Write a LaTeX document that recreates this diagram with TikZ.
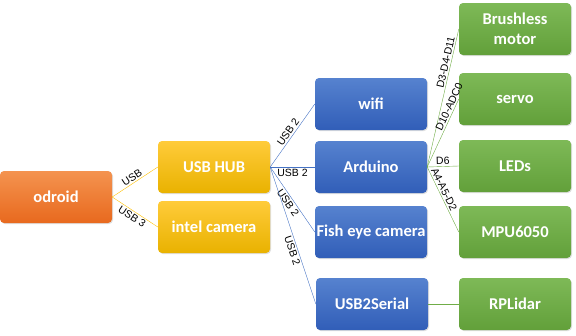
\documentclass[tikz,border=0pt]{standalone}
\usepackage{fontspec}
\setmainfont{Carlito}
\newfontfamily\linkfont{Liberation Sans}
\usetikzlibrary{shadows}
\definecolor{orangeA}{HTML}{F4934F}
\definecolor{orangeB}{HTML}{E8691E}
\definecolor{goldA}{HTML}{FFCB3A}
\definecolor{goldB}{HTML}{E9B200}
\definecolor{blueA}{HTML}{5682CF}
\definecolor{blueB}{HTML}{315EB8}
\definecolor{greenA}{HTML}{7EB957}
\definecolor{greenB}{HTML}{62A03A}
\definecolor{goldline}{HTML}{FFC000}
\definecolor{blueline}{HTML}{4472C4}
\definecolor{greenline}{HTML}{70AD47}
\begin{document}
\begin{tikzpicture}[x=1pt,y=-1pt, line join=round, line cap=round,
  box/.style={rounded corners=4pt, minimum width=112pt, minimum height=52pt, inner sep=0pt,
    text=white, align=center, font=\fontsize{16.5}{20}\selectfont\bfseries,
    drop shadow={opacity=0.25, shadow xshift=1pt, shadow yshift=-1pt}},
  hostbox/.style={box, top color=orangeA, bottom color=orangeB},
  hubbox/.style={box, top color=goldA, bottom color=goldB},
  usbbox/.style={box, top color=blueA, bottom color=blueB},
  partbox/.style={box, top color=greenA, bottom color=greenB},
  tag/.style={text=black, font=\linkfont\fontsize{10.5}{12}\selectfont, sloped, inner sep=1.5pt}]
\useasboundingbox (0,0) rectangle (576,335);
% computer side
\node[hostbox] (odroid) at (56,197) {odroid};
\node[hubbox] (hub) at (214,167) {USB HUB};
\node[hubbox] (realsense) at (214,227) {intel camera};
% usb devices
\node[usbbox] (wifi) at (371,104) {wifi};
\node[usbbox] (arduino) at (371,167) {Arduino};
\node[usbbox] (fisheye) at (371,232) {Fish eye camera};
\node[usbbox] (serial) at (372,304) {USB2Serial};
% hardware
\node[partbox] (motor) at (515,29) {Brushless\\motor};
\node[partbox] (servo) at (515,99) {servo};
\node[partbox] (leds) at (515,166) {LEDs};
\node[partbox] (imu) at (515,232) {MPU6050};
\node[partbox] (lidar) at (515,304) {RPLidar};
% links
\draw[goldline] (odroid.east) -- node[tag,above] {USB} (hub.west);
\draw[goldline] (odroid.east) -- node[tag,below] {USB 3} (realsense.west);
\draw[blueline] (hub.east) -- node[tag,above] {USB 2} (wifi.west);
\draw[blueline] (hub.east) -- node[tag,below] {USB 2} (arduino.west);
\draw[blueline] (hub.east) -- node[tag,below] {USB 2} (fisheye.west);
\draw[blueline] (hub.east) -- node[tag,below,pos=0.6] {USB 2} (serial.west);
\draw[greenline] (arduino.east) -- node[tag,above,pos=0.75] {D3-D4-D11} (motor.west);
\draw[greenline] (arduino.east) -- node[tag,above,pos=0.85] {D10-ADC0} (servo.west);
\draw[greenline] (arduino.east) -- node[tag,above] {D6} (leds.west);
\draw[greenline] (arduino.east) -- node[tag,above,pos=0.38] {A4-A5-D2} (imu.west);
\draw[greenline] (serial.east) -- (lidar.west);
\end{tikzpicture}
\end{document}
